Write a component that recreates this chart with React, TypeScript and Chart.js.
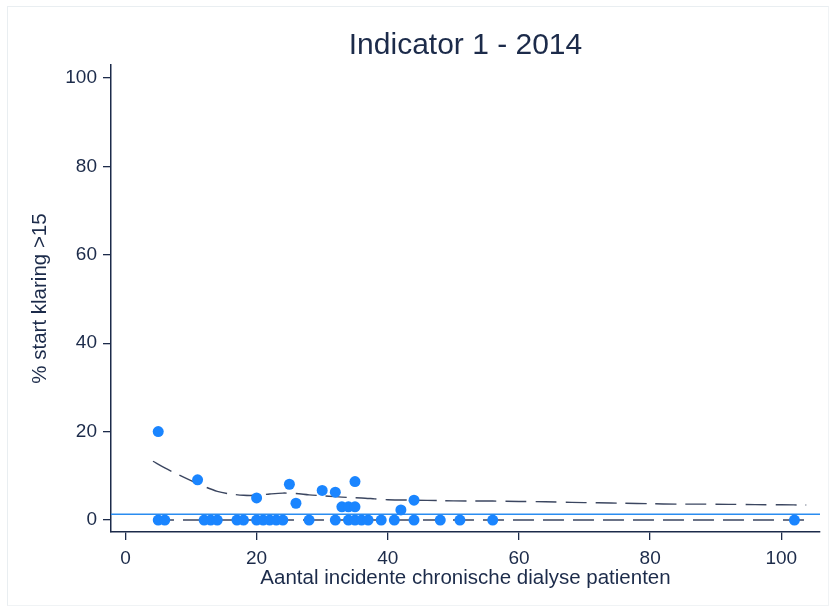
import { useEffect, useRef } from "react";
import { Chart, registerables } from "chart.js";

Chart.register(...registerables);

const TITLE = "Indicator 1 - 2014";
const X_LABEL = "Aantal incidente chronische dialyse patienten";
const Y_LABEL = "% start klaring >15";

const X_TICKS = [0, 20, 40, 60, 80, 100];
const Y_TICKS = [0, 20, 40, 60, 80, 100];
const X_MIN = -2.2;
const X_MAX = 105.9;
const Y_MIN = -2.7;
const Y_MAX = 102.9;

// centres: number of incident patients (x) and % starting with clearance > 15 (y)
const patientsX = [
  5, 6, 12, 13, 14, 17, 18, 20, 21, 22, 23, 24, 28, 32, 34, 35, 36, 37, 39, 41, 44, 48, 51, 56, 102,
  5, 11, 20, 25, 26, 30, 32, 33, 34, 35, 35, 42, 44,
];
const pctY = [
  0, 0, 0, 0, 0, 0, 0, 0, 0, 0, 0, 0, 0, 0, 0, 0, 0, 0, 0, 0, 0, 0, 0, 0, 0,
  20, 9.1, 5.0, 8.1, 3.8, 6.7, 6.3, 3.0, 3.0, 3.0, 8.7, 2.3, 4.5,
];

const MEAN_PCT = 1.3;

// funnel control limits
const upperX = [
  4.2, 6, 8, 10, 12, 14, 16, 18, 20, 22, 24, 26, 28, 30, 32, 34, 36, 38, 40, 44, 48, 52, 56, 60, 64,
  68, 72, 76, 80, 84, 88, 92, 96, 100, 103.8,
];
const upperY = [
  13.3, 11.8, 10.3, 8.9, 7.6, 6.5, 5.9, 5.6, 5.6, 5.9, 6.1, 6.0, 5.7, 5.5, 5.3, 5.1, 5.0, 4.8, 4.6,
  4.5, 4.4, 4.3, 4.3, 4.2, 4.15, 4.0, 3.9, 3.8, 3.7, 3.6, 3.6, 3.55, 3.5, 3.45, 3.4,
];
const lowerX = [4.2, 103.9];
const lowerY = [0, 0];

const INK = "#1c2b4a";
const LIMIT = "#3b4660";
const BLUE = "#1a85ff";
const FONT = "'Liberation Sans', Arial, sans-serif";

export default function App() {
  const ref = useRef<HTMLCanvasElement | null>(null);

  useEffect(() => {
    const canvas = ref.current;
    if (!canvas) return;
    const toPts = (xs: number[], ys: number[]) => xs.map((x, i) => ({ x, y: ys[i] }));

    const chart = new Chart(canvas, {
      type: "scatter",
      data: {
        datasets: [
          {
            type: "scatter",
            data: toPts(patientsX, pctY),
            backgroundColor: BLUE,
            borderColor: BLUE,
            pointRadius: 5.5,
            pointBorderWidth: 0,
            order: 0,
          },
          {
            type: "line",
            data: [
              { x: X_MIN, y: MEAN_PCT },
              { x: X_MAX, y: MEAN_PCT },
            ],
            borderColor: "#2a8cf0",
            borderWidth: 1.5,
            pointRadius: 0,
            fill: false,
            order: 1,
          },
          {
            type: "line",
            data: toPts(upperX, upperY),
            borderColor: LIMIT,
            borderWidth: 1.4,
            borderDash: [21, 9],
            pointRadius: 0,
            tension: 0.3,
            fill: false,
            order: 2,
          },
          {
            type: "line",
            data: toPts(lowerX, lowerY),
            borderColor: LIMIT,
            borderWidth: 1.4,
            borderDash: [21, 9],
            pointRadius: 0,
            fill: false,
            order: 3,
          },
        ],
      },
      options: {
        animation: false,
        responsive: false,
        maintainAspectRatio: false,
        layout: { padding: { left: 0, right: 12, top: 0, bottom: 0 } },
        plugins: {
          legend: { display: false },
          tooltip: { enabled: false },
          title: {
            display: true,
            fullSize: false,
            text: TITLE,
            color: INK,
            font: { family: FONT, size: 30, weight: "normal", lineHeight: 1.2 },
            padding: { top: 28, bottom: 1 },
          },
        },
        scales: {
          x: {
            type: "linear",
            min: X_MIN,
            max: X_MAX,
            afterBuildTicks: (s: any) => {
              s.ticks = X_TICKS.map((v) => ({ value: v }));
            },
            afterFit: (s: any) => {
              s.height = 77;
            },
            grid: { drawOnChartArea: false, drawTicks: true, tickLength: 8, color: INK, lineWidth: 1.3 },
            border: { display: true, color: INK, width: 1.5 },
            ticks: { color: INK, font: { family: FONT, size: 19 }, padding: 7, maxRotation: 0 },
            title: {
              display: true,
              text: X_LABEL,
              color: INK,
              font: { family: FONT, size: 20.5, lineHeight: 1.2 },
              padding: { top: 0, bottom: 18.5 },
            },
          },
          y: {
            type: "linear",
            min: Y_MIN,
            max: Y_MAX,
            afterBuildTicks: (s: any) => {
              s.ticks = Y_TICKS.map((v) => ({ value: v }));
            },
            afterFit: (s: any) => {
              s.width = 111;
            },
            grid: { drawOnChartArea: false, drawTicks: true, tickLength: 8, color: INK, lineWidth: 1.3 },
            border: { display: true, color: INK, width: 1.5 },
            ticks: { color: INK, font: { family: FONT, size: 19 }, padding: 6 },
            title: {
              display: true,
              text: Y_LABEL,
              color: INK,
              font: { family: FONT, size: 20.5, lineHeight: 1.2 },
              padding: { top: 28.5, bottom: 0 },
            },
          },
        },
      },
    } as any);

    return () => chart.destroy();
  }, []);

  return (
    <div style={{ position: "absolute", left: 0, top: 0, width: 832, height: 609, background: "#fff" }}>
      <div
        style={{
          position: "absolute",
          left: 7,
          top: 6,
          right: 3,
          bottom: 3,
          borderTop: "1px solid #e9eef1",
          borderLeft: "1px solid #e9eef1",
          borderRight: "1px solid #f0f3f5",
          borderBottom: "1px solid #f0f3f5",
        }}
      />
      <canvas ref={ref} width={832} height={609} style={{ position: "absolute", left: 0, top: 0, width: 832, height: 609 }} />
    </div>
  );
}
